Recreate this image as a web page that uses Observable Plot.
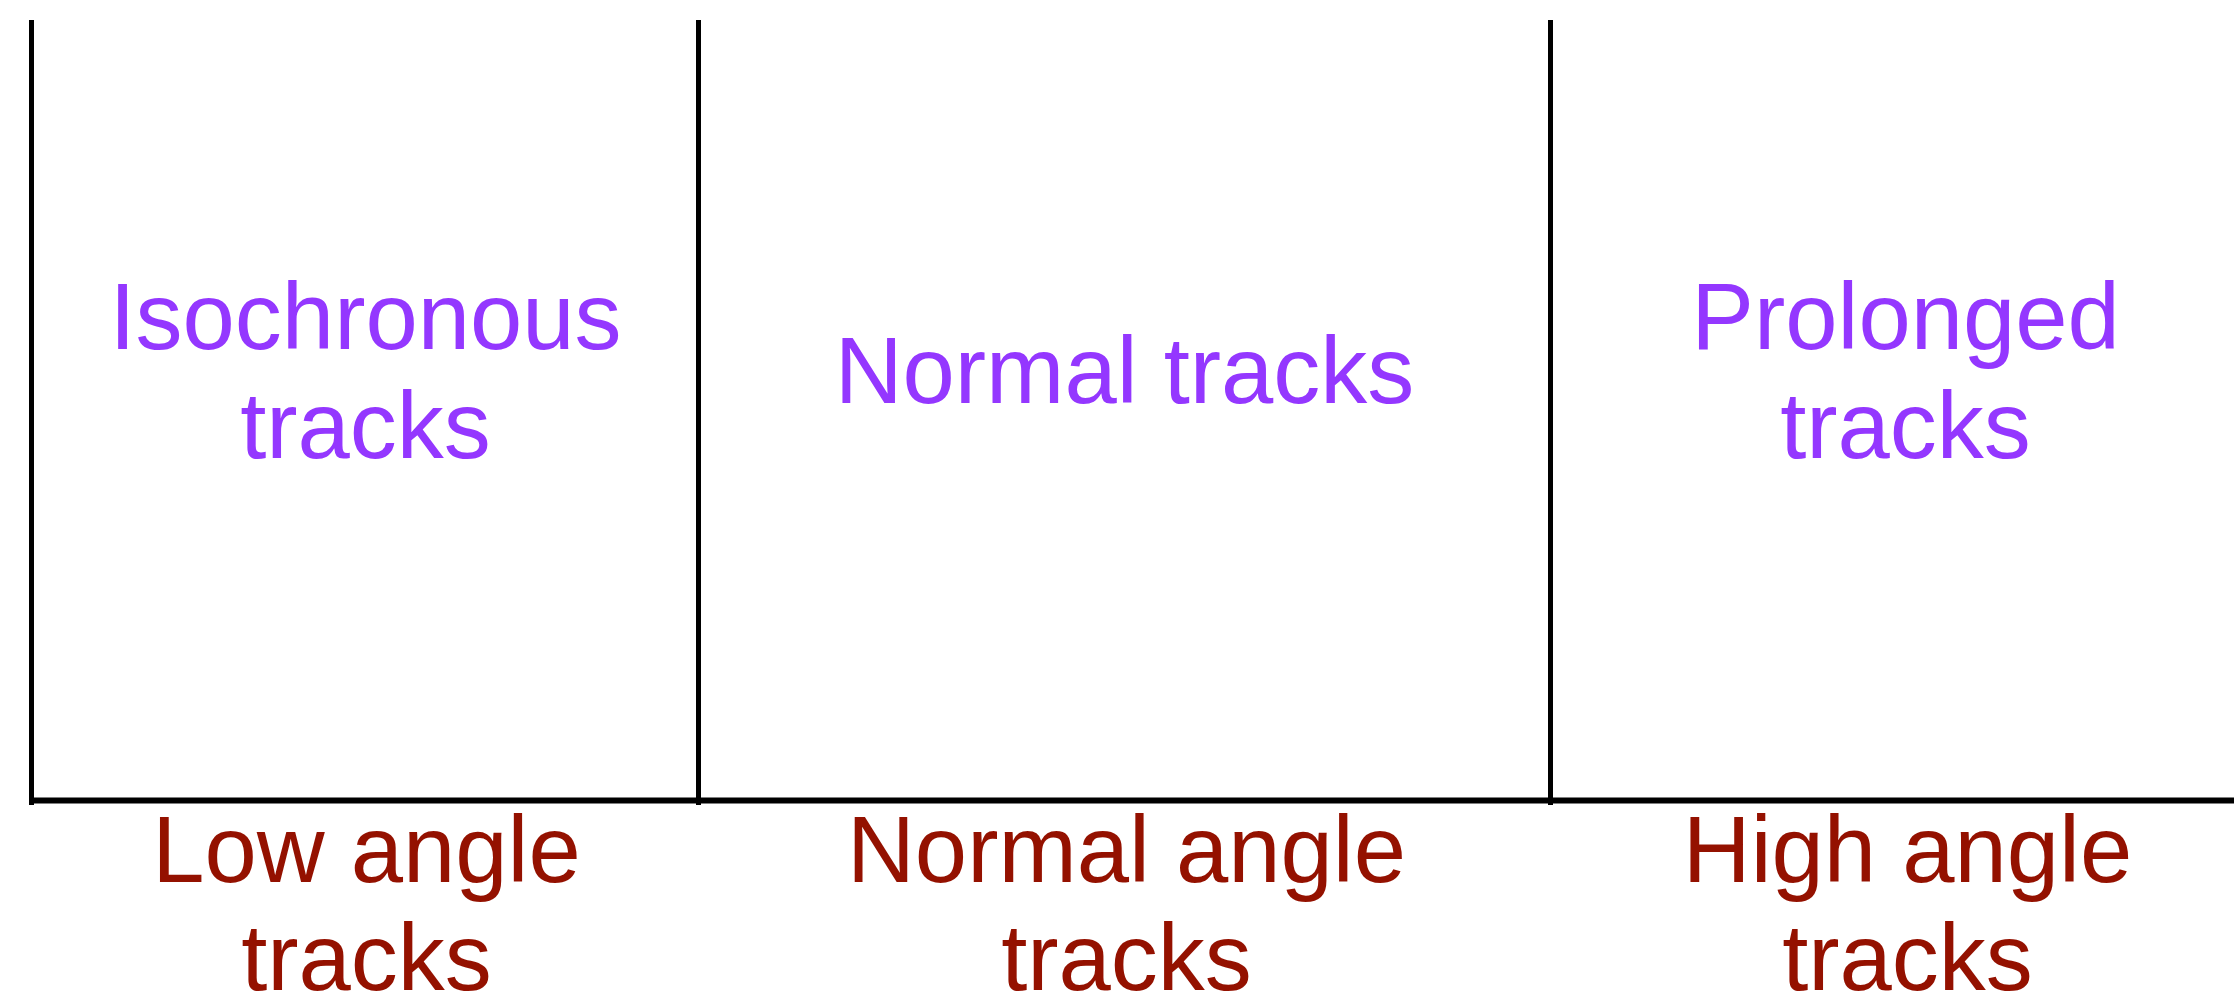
<!DOCTYPE html>
<html>
<head>
<meta charset="utf-8">
<script src="https://cdn.jsdelivr.net/npm/d3@7"></script>
<script src="https://cdn.jsdelivr.net/npm/@observablehq/plot@0.6"></script>
<style>
  html, body { margin: 0; padding: 0; background: #fff; }
  #chart svg { display: block; }
</style>
</head>
<body>
<div id="chart"></div>
<script>
// Diagram data (x in layout units measured from the left axis line)
const xExtent = [0, 2203];
const dividers = [0, 667, 1519];           // vertical boundary lines
const topLabels = ["Isochronous\ntracks", "Normal tracks", "Prolonged\ntracks"];
const topLabelX = [334, 1093, 1874];
const bottomLabels = ["Low angle\ntracks", "Normal angle\ntracks", "High angle\ntracks"];
const bottomLabelX = [335, 1095, 1876];

const FONT = "Helvetica, 'Liberation Sans', Arial, sans-serif";
const topData = topLabels.map((t, i) => ({text: t, x: topLabelX[i], lines: t.split("\n").length}));
const bottomData = bottomLabels.map((t, i) => ({text: t, x: bottomLabelX[i]}));

const chart = Plot.plot({
  width: 2234,
  height: 1001,
  marginLeft: 31,
  marginRight: 0,
  marginTop: 20,
  marginBottom: 201,
  x: {domain: xExtent, axis: null},
  y: {domain: [0, 780], axis: null},
  style: {fontFamily: FONT, background: "#fff"},
  marks: [
    Plot.ruleX(dividers, {x: d => d, y1: -5, y2: 780, stroke: "#000", strokeWidth: 5}),
    Plot.ruleY([0], {x1: xExtent[0], x2: xExtent[1], stroke: "#000", strokeWidth: 6}),
    Plot.text(topData, {
      x: "x",
      y: d => d.lines > 1 ? 529 : 475,
      text: "text",
      lineAnchor: "top",
      lineHeight: 1.16,
      fontSize: 94,
      fill: "#9437FF",
      fontFamily: FONT
    }),
    Plot.text(bottomData, {
      x: "x",
      y: -5,
      text: "text",
      lineAnchor: "top",
      lineHeight: 1.15,
      fontSize: 94,
      fill: "#941100",
      fontFamily: FONT
    })
  ]
});
document.getElementById("chart").appendChild(chart);
</script>
</body>
</html>
